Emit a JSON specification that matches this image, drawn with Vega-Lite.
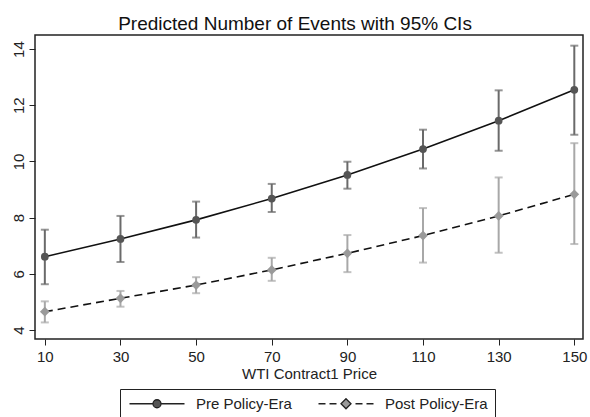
{
  "$schema": "https://vega.github.io/schema/vega-lite/v6.json",
  "width": 548,
  "height": 304,
  "autosize": {"type": "none"},
  "padding": {"left": 35, "top": 35, "right": 7, "bottom": 78},
  "background": "white",
  "title": {"text": "Predicted Number of Events with 95% CIs", "fontSize": 19, "font": "Liberation Sans", "fontWeight": "normal", "color": "#111111", "anchor": "middle", "frame": "group", "dx": -14, "dy": 16, "baseline": "alphabetic", "offset": 2},
  "config": {
    "view": {"stroke": "#222222", "strokeWidth": 1.5},
    "axis": {"labelFont": "Liberation Sans", "titleFont": "Liberation Sans", "labelFontSize": 15, "titleFontSize": 15, "titleFontWeight": "normal", "labelColor": "#222222", "titleColor": "#222222", "tickColor": "#222222", "tickSize": 6, "domain": false, "grid": false}
  },
  "data": {"values": [
    {"price": 10, "era": "Pre Policy-Era", "est": 6.61, "lo": 5.63, "hi": 7.57},
    {"price": 30, "era": "Pre Policy-Era", "est": 7.24, "lo": 6.42, "hi": 8.06},
    {"price": 50, "era": "Pre Policy-Era", "est": 7.92, "lo": 7.29, "hi": 8.57},
    {"price": 70, "era": "Pre Policy-Era", "est": 8.68, "lo": 8.2, "hi": 9.2},
    {"price": 90, "era": "Pre Policy-Era", "est": 9.52, "lo": 9.03, "hi": 9.99},
    {"price": 110, "era": "Pre Policy-Era", "est": 10.44, "lo": 9.75, "hi": 11.13},
    {"price": 130, "era": "Pre Policy-Era", "est": 11.45, "lo": 10.38, "hi": 12.53},
    {"price": 150, "era": "Pre Policy-Era", "est": 12.55, "lo": 10.95, "hi": 14.12},
    {"price": 10, "era": "Post Policy-Era", "est": 4.65, "lo": 4.27, "hi": 5.02},
    {"price": 30, "era": "Post Policy-Era", "est": 5.13, "lo": 4.83, "hi": 5.39},
    {"price": 50, "era": "Post Policy-Era", "est": 5.6, "lo": 5.31, "hi": 5.88},
    {"price": 70, "era": "Post Policy-Era", "est": 6.14, "lo": 5.75, "hi": 6.57},
    {"price": 90, "era": "Post Policy-Era", "est": 6.73, "lo": 6.06, "hi": 7.38},
    {"price": 110, "era": "Post Policy-Era", "est": 7.36, "lo": 6.4, "hi": 8.34},
    {"price": 130, "era": "Post Policy-Era", "est": 8.06, "lo": 6.75, "hi": 9.43},
    {"price": 150, "era": "Post Policy-Era", "est": 8.83, "lo": 7.06, "hi": 10.65}
  ]},
  "encoding": {
    "x": {"field": "price", "type": "quantitative", "scale": {"domain": [7.4, 152.3], "nice": false, "zero": false},
      "axis": {"values": [10, 30, 50, 70, 90, 110, 130, 150], "title": "WTI Contract1 Price", "labelPadding": 4, "titleBaseline": "alphabetic", "titleY": 39}}
  },
  "layer": [
    {
      "transform": [{"filter": "datum.era == 'Pre Policy-Era'"}],
      "mark": {"type": "rule", "color": "#6a6a6a", "strokeWidth": 2},
      "encoding": {
        "y": {"field": "lo", "type": "quantitative", "scale": {"domain": [3.68, 14.5], "nice": false, "zero": false},
          "axis": {"values": [4, 6, 8, 10, 12, 14], "title": null, "labelAngle": -90, "labelPadding": 3}},
        "y2": {"field": "hi"}
      }
    },
    {
      "transform": [{"filter": "datum.era == 'Post Policy-Era'"}],
      "mark": {"type": "rule", "color": "#a8a8a8", "strokeWidth": 2},
      "encoding": {"y": {"field": "lo", "type": "quantitative"}, "y2": {"field": "hi"}}
    },
    {
      "transform": [{"fold": ["lo", "hi"], "as": ["bound", "val"]}, {"filter": "datum.era == 'Pre Policy-Era'"}],
      "mark": {"type": "tick", "orient": "horizontal", "color": "#6a6a6a", "size": 8, "thickness": 2},
      "encoding": {"y": {"field": "val", "type": "quantitative"}}
    },
    {
      "transform": [{"fold": ["lo", "hi"], "as": ["bound", "val"]}, {"filter": "datum.era == 'Post Policy-Era'"}],
      "mark": {"type": "tick", "orient": "horizontal", "color": "#a8a8a8", "size": 8, "thickness": 2},
      "encoding": {"y": {"field": "val", "type": "quantitative"}}
    },
    {
      "transform": [{"filter": "datum.era == 'Pre Policy-Era'"}],
      "mark": {"type": "line", "color": "#111111", "strokeWidth": 1.6},
      "encoding": {"y": {"field": "est", "type": "quantitative"}}
    },
    {
      "transform": [{"filter": "datum.era == 'Post Policy-Era'"}],
      "mark": {"type": "line", "color": "#111111", "strokeWidth": 1.6, "strokeDash": [8, 5]},
      "encoding": {"y": {"field": "est", "type": "quantitative"}}
    },
    {
      "transform": [{"filter": "datum.era == 'Pre Policy-Era'"}],
      "mark": {"type": "point", "shape": "circle", "filled": true, "color": "#555555", "size": 60, "opacity": 1},
      "encoding": {"y": {"field": "est", "type": "quantitative"}}
    },
    {
      "transform": [{"filter": "datum.era == 'Post Policy-Era'"}],
      "mark": {"type": "point", "shape": "diamond", "filled": true, "color": "#9a9a9a", "size": 95, "opacity": 1},
      "encoding": {"y": {"field": "est", "type": "quantitative"}}
    },
    {
      "mark": {"type": "point", "filled": true, "opacity": 0, "size": 100},
      "encoding": {
        "y": {"field": "est", "type": "quantitative"},
        "color": {"field": "era", "type": "nominal", "scale": {"domain": ["Pre Policy-Era", "Post Policy-Era"], "range": ["#555555", "#9a9a9a"]},
          "legend": {"title": null, "orient": "none", "legendX": 85, "legendY": 354, "direction": "horizontal", "strokeColor": "#222222", "fillColor": "white", "padding": 7, "labelFont": "Liberation Sans", "labelFontSize": 15, "labelColor": "#222222", "symbolSize": 100, "labelOffset": 54, "columnPadding": 23, "symbolOpacity": 1, "symbolStrokeWidth": 1.3,
            "encode": {"symbols": {"update": {"stroke": {"value": "#222222"}, "strokeWidth": {"value": 1.3}, "opacity": {"value": 1}}}}}},
        "shape": {"field": "era", "type": "nominal", "scale": {"domain": ["Pre Policy-Era", "Post Policy-Era"], "range": ["M-1,0H3.7M5.3,0H10M3.7,0A0.8,0.8 0 1,0 5.3,0A0.8,0.8 0 1,0 3.7,0Z", "M-1,0H0.4M1.2,0H2.6M6.4,0H7.8M8.6,0H10M4.5,-1L5.5,0L4.5,1L3.5,0Z"]}}
      }
    }
  ]
}
